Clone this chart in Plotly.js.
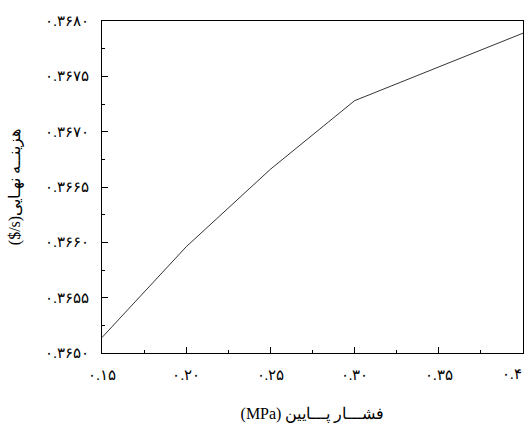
<!DOCTYPE html>
<html><head><meta charset="utf-8">
<script src="https://cdn.plot.ly/plotly-3.0.1.min.js"></script>
<style>body{margin:0;background:#fff}</style>
</head><body><div id="c" style="width:530px;height:428px"></div>
<script>
var pressure = [0.15, 0.20, 0.25, 0.30, 0.40];
var cost = [0.36514, 0.36596, 0.36666, 0.36728, 0.36789];
var xTickVals = [0.15, 0.20, 0.25, 0.30, 0.35, 0.40];
var xTickText = ['۰.۱۵', '۰.۲۰', '۰.۲۵', '۰.۳۰', '۰.۳۵', '۰.۴'];
var yTickVals = [0.3650, 0.3655, 0.3660, 0.3665, 0.3670, 0.3675, 0.3680];
var yTickText = ['۰.۳۶۵۰', '۰.۳۶۵۵', '۰.۳۶۶۰', '۰.۳۶۶۵', '۰.۳۶۷۰', '۰.۳۶۷۵', '۰.۳۶۸۰'];
var xTitle = '(MPa) فشـــار پـــایین';
var yTitle = '($/s)هزینــه نهـایی';

var lastIdx = xTickText.length - 1;
// the last x label is drawn right-aligned to its tick so it stays on the page
var xTickShown = xTickText.map(function (t, i) { return i === lastIdx ? '' : t; });

var fam = 'Liberation Serif, DejaVu Serif, serif';
var fnt = {family: fam, size: 14.5, color: '#000'};
var tfnt = {family: fam, size: 16, color: '#000'};
Plotly.newPlot('c', [{
  x: pressure, y: cost, type: 'scatter', mode: 'lines',
  line: {color: '#000', width: 0.8}, hoverinfo: 'none'
}], {
  width: 530, height: 428,
  margin: {l: 102, r: 7, t: 21, b: 75},
  paper_bgcolor: '#fff', plot_bgcolor: '#fff',
  showlegend: false,
  font: fnt,
  annotations: [{
    x: xTickVals[lastIdx], xref: 'x', y: 0, yref: 'paper',
    xanchor: 'right', yanchor: 'top', yshift: -11, xshift: 1,
    text: xTickText[lastIdx], showarrow: false, font: fnt
  }],
  xaxis: {
    range: [0.15, 0.40], tickmode: 'array', tickvals: xTickVals, ticktext: xTickShown,
    ticks: 'inside', ticklen: 6, tickwidth: 1, tickcolor: '#000',
    minor: {ticks: 'inside', ticklen: 3, dtick: 0.025, tick0: 0.15, tickcolor: '#000', tickwidth: 1},
    showline: true, linecolor: '#000', linewidth: 1.2, mirror: true,
    showgrid: false, zeroline: false, tickfont: fnt, ticklabelstandoff: 8,
    title: {text: xTitle, font: tfnt, standoff: 26}
  },
  yaxis: {
    range: [0.3650, 0.3680], tickmode: 'array', tickvals: yTickVals, ticktext: yTickText,
    ticks: 'inside', ticklen: 6, tickwidth: 1, tickcolor: '#000',
    minor: {ticks: 'inside', ticklen: 3, dtick: 0.00025, tick0: 0.3650, tickcolor: '#000', tickwidth: 1},
    showline: true, linecolor: '#000', linewidth: 1.2, mirror: true,
    showgrid: false, zeroline: false, tickfont: fnt, ticklabelstandoff: 9,
    ticklabeloverflow: 'allow',
    title: {text: yTitle, font: tfnt, standoff: 20}
  }
}, {staticPlot: true});
</script></body></html>
